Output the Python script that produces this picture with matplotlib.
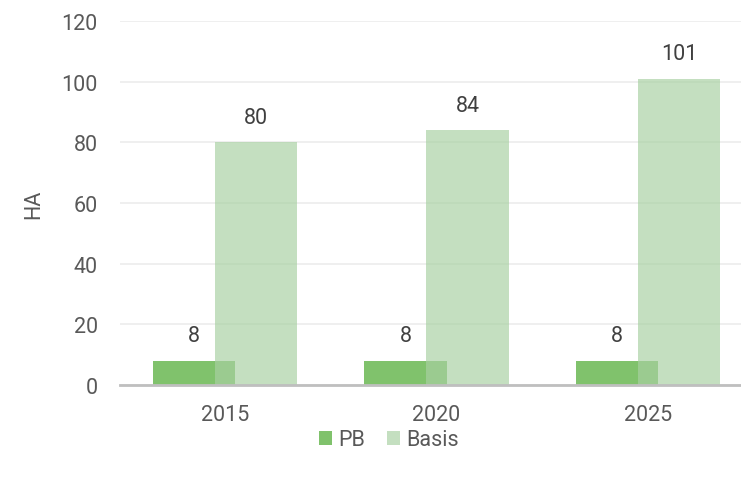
import numpy as np
import matplotlib
matplotlib.use("Agg")
import matplotlib.pyplot as plt

# dados
anos = ["2015", "2020", "2025"]
pb = [8, 8, 8]
basis = [80, 84, 101]

plt.rcParams['font.family'] = ['Roboto', 'DejaVu Sans']
fs = 15.5

fig = plt.figure(figsize=(7.41, 4.81), dpi=100)
ax = fig.add_axes([120 / 741, 1 - 386 / 481, 1 - 120 / 741, 364 / 481])

x = np.arange(len(anos))
largura = 0.39
desloc = 0.147

b1 = ax.bar(x - desloc, pb, largura, color="#80c26c", label="PB", zorder=2)
b2 = ax.bar(x + desloc, basis, largura, color="#a8d0a2", alpha=0.68, label="Basis", zorder=3)

for barras in (b1, b2):
    for r in barras:
        ax.annotate(f"{r.get_height():.0f}", (r.get_x() + r.get_width() / 2, r.get_height()),
                    xytext=(0, 18), textcoords="offset points", ha="center", va="center",
                    fontsize=fs, color="#404040")

ax.set_xlim(-(225 - 120) / 211.5, (741 - 225) / 211.5)
ax.set_ylim(0, 120)
ax.set_yticks(range(0, 121, 20))
ax.set_xticks(x)
ax.set_xticklabels(anos)
ax.tick_params(axis="both", length=0, labelsize=fs, labelcolor="#595959")
ax.tick_params(axis="x", pad=13.5)
ax.tick_params(axis="y", pad=16)
ax.yaxis.grid(True, color="#ececec", linewidth=1.2, zorder=0)
ax.set_axisbelow(True)
for s in ["top", "right", "left"]:
    ax.spines[s].set_visible(False)
ax.spines["bottom"].set_color("#bfbfbf")
ax.spines["bottom"].set_linewidth(2)
ax.spines["bottom"].set_zorder(4)

ax.set_ylabel("HA", fontsize=fs, color="#595959", labelpad=12)

fig.legend(handles=[b1, b2], labels=["PB", "Basis"], loc="center", bbox_to_anchor=(389 / 741, 1 - 441 / 481),
           ncol=2, frameon=False, fontsize=fs, labelcolor="#595959",
           handlelength=0.6, handleheight=0.6, handletextpad=0.3, columnspacing=1.0)

plt.savefig("out.png", dpi=100)
